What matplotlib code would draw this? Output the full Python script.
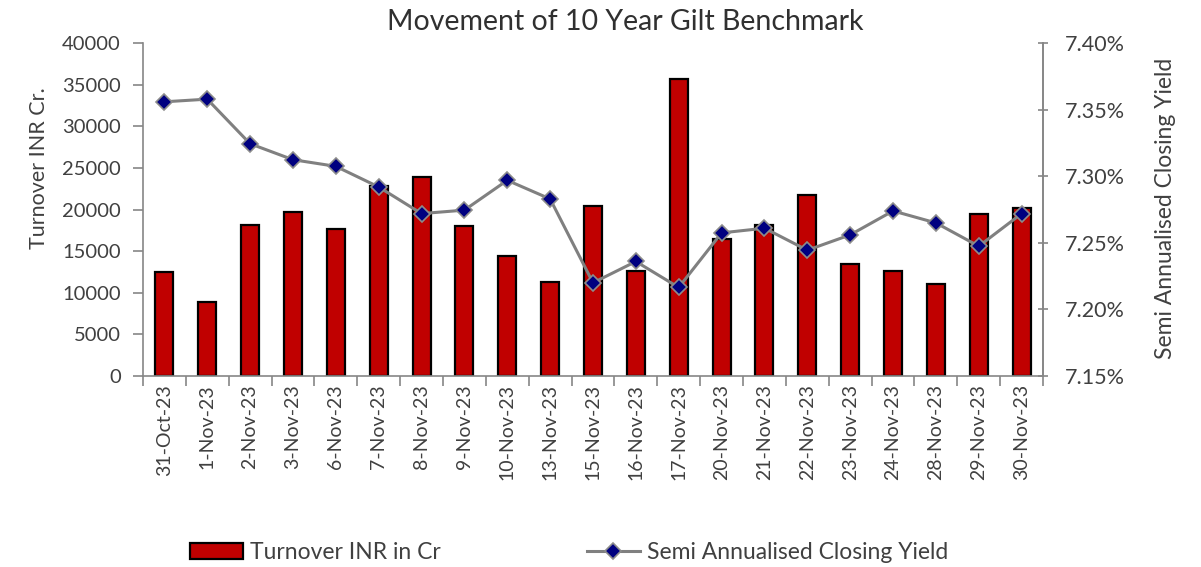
import matplotlib
matplotlib.use("Agg")
import matplotlib.pyplot as plt
from matplotlib.ticker import FuncFormatter, MultipleLocator, FixedLocator
import numpy as np

dates = ["31-Oct-23", "1-Nov-23", "2-Nov-23", "3-Nov-23", "6-Nov-23", "7-Nov-23",
         "8-Nov-23", "9-Nov-23", "10-Nov-23", "13-Nov-23", "15-Nov-23", "16-Nov-23",
         "17-Nov-23", "20-Nov-23", "21-Nov-23", "22-Nov-23", "23-Nov-23", "24-Nov-23",
         "28-Nov-23", "29-Nov-23", "30-Nov-23"]
turnover = [12500, 8900, 18200, 19700, 17700, 22800, 23900, 18000, 14400, 11300,
            20400, 12600, 35700, 16500, 18100, 21800, 13500, 12600, 11000, 19500, 20200]
yield_pct = [7.356, 7.358, 7.3245, 7.3125, 7.3075, 7.292, 7.272, 7.2746, 7.297, 7.283,
             7.220, 7.236, 7.2165, 7.2575, 7.261, 7.2445, 7.256, 7.274, 7.265, 7.2475, 7.272]

plt.rcParams['font.family'] = ['Lato', 'DejaVu Sans']
plt.rcParams['font.weight'] = 'normal'
txt = '#404040'
axc = '#868686'

fig = plt.figure(figsize=(12.01, 5.67), dpi=100)
ax = fig.add_axes([0.119, 0.337, 0.7495, 0.5867])
ax2 = ax.twinx()

x = np.arange(len(dates))
bars = ax.bar(x, turnover, width=0.42, color='#C00000', edgecolor='black', linewidth=1.6,
              label='Turnover INR in Cr', zorder=2)
line, = ax2.plot(x, yield_pct, color='#808080', linewidth=2.2, marker='D', markersize=8,
                 markerfacecolor='#000080', markeredgecolor='#8c8c8c', markeredgewidth=1.2,
                 label='Semi Annualised Closing Yield', zorder=3)

ax.set_xlim(-0.5, len(dates) - 0.5)
ax.set_ylim(0, 40000)
ax.yaxis.set_major_locator(MultipleLocator(5000))
ax2.set_ylim(7.15, 7.40)
ax2.yaxis.set_major_locator(FixedLocator([7.15, 7.20, 7.25, 7.30, 7.35, 7.40]))
ax2.yaxis.set_major_formatter(FuncFormatter(lambda v, p: f"{v:.2f}%"))

ax.set_xticks(x)
ax.set_xticklabels(dates, rotation=90, fontsize=14, color=txt)
ax.tick_params(axis='x', which='major', length=0, pad=6)
ax.set_xticks(np.arange(-0.5, len(dates), 1.0), minor=True)
ax.tick_params(axis='x', which='minor', length=7, direction='out', color=axc, width=1.2)

ax.tick_params(axis='y', labelsize=14.5, labelcolor=txt, length=7, direction='out', color=axc, width=1.2, pad=9)
ax2.tick_params(axis='y', labelsize=15.5, labelcolor=txt, length=7, direction='inout', color=axc, width=1.2, pad=12)

for a in (ax, ax2):
    a.spines['top'].set_visible(False)
    for s in ('left', 'right', 'bottom'):
        a.spines[s].set_color(axc)
        a.spines[s].set_linewidth(1.2)
ax2.spines['left'].set_visible(False)
ax2.spines['bottom'].set_visible(False)

ax.set_ylabel('Turnover INR Cr.', fontsize=15.5, color=txt)
ax.yaxis.set_label_coords(-0.104, 0.625)
ax2.set_ylabel('Semi Annualised Closing Yield', fontsize=16.5, color=txt)
ax2.yaxis.set_label_coords(1.124, 0.505)

fig.text(0.521, 0.962, 'Movement of 10 Year Gilt Benchmark', ha='center', va='center',
         fontsize=20.5, color='#303030')

fig.legend([bars, line], ['Turnover INR in Cr', 'Semi Annualised Closing Yield'],
           loc='center left', bbox_to_anchor=(0.141, 0.025), ncol=2, frameon=False,
           fontsize=16.5, handlelength=2.3, handletextpad=0.3, columnspacing=6.4,
           labelcolor=txt)

fig.savefig('out.png', dpi=100)
